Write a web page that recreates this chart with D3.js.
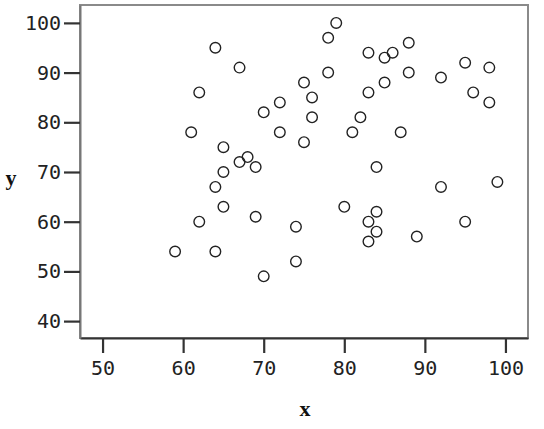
<!DOCTYPE html>
<html lang="en">
<head>
<meta charset="UTF-8">
<title>Scatter</title>
<script src="https://d3js.org/d3.v7.min.js"></script>
<style>
  body { margin: 0; background: #fff; }
  .tick text { font-family: "DejaVu Sans Mono", monospace; font-size: 20px; fill: #222; }
  .axis-label { font-family: "Liberation Serif", serif; font-weight: bold; font-size: 22px; fill: #111; }
</style>
</head>
<body>
<script>
// ---- data ----
var xValues = [59, 62, 61, 64, 62, 64, 64, 65, 65, 65, 67, 67, 68, 69, 69, 70, 70, 72, 72, 74,
               74, 75, 75, 76, 76, 78, 78, 79, 80, 81, 82, 83, 83, 83, 83, 84, 84, 84, 85, 85,
               86, 87, 88, 88, 89, 92, 92, 95, 95, 96, 98, 98, 99];
var yValues = [54, 86, 78, 95, 60, 67, 54, 75, 70, 63, 91, 72, 73, 71, 61, 49, 82, 84, 78, 59,
               52, 88, 76, 85, 81, 97, 90, 100, 63, 78, 81, 94, 86, 60, 56, 71, 62, 58, 93, 88,
               94, 78, 96, 90, 57, 89, 67, 92, 60, 86, 91, 84, 68];
var xTicks = [50, 60, 70, 80, 90, 100];
var yTicks = [40, 50, 60, 70, 80, 90, 100];

// ---- canvas ----
var w = 544, h = 429;
var margin = { top: 5, left: 80, right: 16, bottom: 91 };
var width = w - margin.left - margin.right;
var height = h - margin.top - margin.bottom;

var svg = d3.select("body").append("svg")
    .attr("width", w)
    .attr("height", h);
var chart = svg.append("g")
    .attr("transform", "translate(" + margin.left + "," + margin.top + ")");

// ---- scales ----
var x = d3.scaleLinear().domain([47.2, 102.8]).range([0, width]);
var y = d3.scaleLinear().domain([36.6, 103.6]).range([height, 0]);

// frame (top/right lighter)
chart.append("rect")
    .attr("width", width)
    .attr("height", height)
    .attr("fill", "#fff")
    .attr("stroke", "#8a8a8a")
    .attr("stroke-width", 2);

// ---- axes ----
var xAxis = d3.axisBottom(x).tickValues(xTicks).tickSize(15).tickPadding(8).tickSizeOuter(0);
var yAxis = d3.axisLeft(y).tickValues(yTicks).tickSize(16).tickPadding(3).tickSizeOuter(0);

var gx = chart.append("g")
    .attr("transform", "translate(0," + height + ")")
    .call(xAxis);
var gy = chart.append("g").call(yAxis);

[gx, gy].forEach(function(g){
    g.select(".domain").attr("stroke", "#333").attr("stroke-width", 2);
    g.selectAll(".tick line").attr("stroke", "#333").attr("stroke-width", 2.2);
});
gy.select(".domain").attr("stroke", "#777");

// axis titles
svg.append("text")
    .attr("class", "axis-label")
    .attr("x", 11)
    .attr("y", 185)
    .attr("text-anchor", "middle")
    .text("y");
svg.append("text")
    .attr("class", "axis-label")
    .attr("x", 305)
    .attr("y", 416)
    .attr("text-anchor", "middle")
    .text("x");

// ---- points ----
var pts = xValues.map(function(v, i){ return { x: v, y: yValues[i] }; });
chart.selectAll(".pt")
    .data(pts)
    .enter()
    .append("circle")
    .attr("class", "pt")
    .attr("cx", function(d){ return x(d.x); })
    .attr("cy", function(d){ return y(d.y); })
    .attr("r", 5.3)
    .attr("fill", "none")
    .attr("stroke", "#222")
    .attr("stroke-width", 1.4);
</script>
</body>
</html>
